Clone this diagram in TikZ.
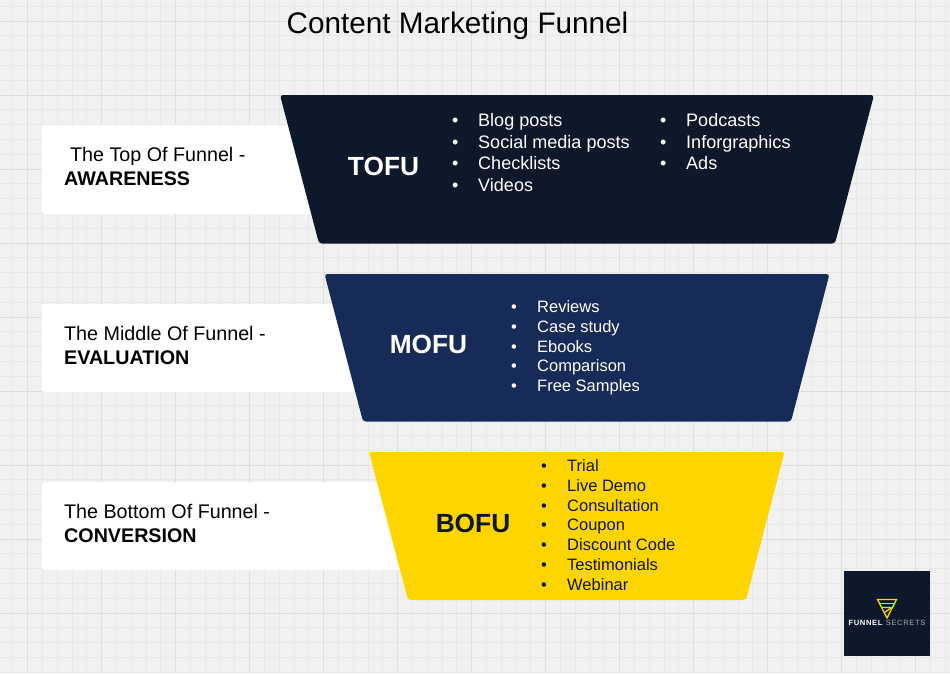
\documentclass[tikz,border=0pt]{standalone}
\usepackage{fontspec}
\setmainfont{Liberation Sans}
\definecolor{paper}{HTML}{F1F1F1}
\definecolor{gridminor}{HTML}{E8E8E8}
\definecolor{gridmajor}{HTML}{DEDEDE}
\definecolor{tofucol}{HTML}{0E182B}
\definecolor{mofucol}{HTML}{172B58}
\definecolor{bofucol}{HTML}{FFD500}
\tikzset{
  stagebox/.style={fill=white, rounded corners=2pt},
  stagetext/.style={anchor=base west, inner sep=0pt, font=\fontsize{19.7}{24}\selectfont, text=black},
  funnelband/.style={rounded corners=3pt},
  bandname/.style={inner sep=0pt, font=\fontsize{26.3}{30}\bfseries\selectfont},
  bandlist/.style={anchor=base west, inner sep=0pt, text=white},
  bigitem/.style={bandlist, font=\fontsize{18.05}{22}\selectfont},
  smallitem/.style={bandlist, font=\fontsize{16.5}{20}\selectfont},
  logoline/.style={draw=bofucol, line width=1.3pt},
}
\newcommand{\bul}[1]{\makebox[26pt][l]{•}#1}
\begin{document}
\begin{tikzpicture}[x=1pt, y=-1pt]
\useasboundingbox (0,0) rectangle (950,673);
\fill[paper] (0,0) rectangle (950,673);
% grid
\foreach \gx in {0,...,64} {\draw[gridminor, line width=1pt] (12.8+14.8*\gx,0) -- (12.8+14.8*\gx,673);}
\foreach \gy in {0,...,45} {\draw[gridminor, line width=1pt] (0,6.2+14.8*\gy) -- (950,6.2+14.8*\gy);}
\foreach \gx in {0,...,12} {\draw[gridmajor, line width=1pt] (27.6+74*\gx,0) -- (27.6+74*\gx,673);}
\foreach \gy in {0,...,8} {\draw[gridmajor, line width=1pt] (0,21+74*\gy) -- (950,21+74*\gy);}

\node[anchor=base, inner sep=0pt, font=\fontsize{29.7}{34}\selectfont] (title) at (457.5,33) {Content Marketing Funnel};

% left labels
\fill[stagebox] (42,125) rectangle (330,214);
\fill[stagebox] (42,304) rectangle (370,392);
\fill[stagebox] (42,482) rectangle (410,570);
\node[stagetext] (topline) at (70,161) {The Top Of Funnel -};
\node[stagetext] (topword) at (64,185) {\bfseries AWARENESS};
\node[stagetext] (midline) at (64,340) {The Middle Of Funnel -};
\node[stagetext] (midword) at (64,364) {\bfseries EVALUATION};
\node[stagetext] (botline) at (64,518) {The Bottom Of Funnel -};
\node[stagetext] (botword) at (64,542) {\bfseries CONVERSION};

% funnel
\fill[funnelband, tofucol] (280,95) -- (874,95) -- (835,243.5) -- (319,243.5) -- cycle;
\fill[funnelband, mofucol] (324.5,274) -- (829.5,274) -- (791,421.5) -- (363,421.5) -- cycle;
\fill[funnelband, bofucol] (369,452) -- (784.5,452) -- (746,600) -- (408,600) -- cycle;
\node[bandname, white] (tofu) at (383.5,166) {TOFU};
\node[bandname, white] (mofu) at (428.5,344) {MOFU};
\node[bandname, tofucol] (bofu) at (473,523) {BOFU};

\node[bigitem] (tid0) at (452,126) {\bul{Blog posts}};
\node[bigitem] (tid1) at (452,148) {\bul{Social media posts}};
\node[bigitem] (tid2) at (452,169) {\bul{Checklists}};
\node[bigitem] (tid3) at (452,191) {\bul{Videos}};
\node[bigitem] (tid4) at (660,126) {\bul{Podcasts}};
\node[bigitem] (tid5) at (660,148) {\bul{Inforgraphics}};
\node[bigitem] (tid6) at (660,169) {\bul{Ads}};

\node[smallitem] (mid0) at (511,312) {\bul{Reviews}};
\node[smallitem] (mid1) at (511,332) {\bul{Case study}};
\node[smallitem] (mid2) at (511,352) {\bul{Ebooks}};
\node[smallitem] (mid3) at (511,371) {\bul{Comparison}};
\node[smallitem] (mid4) at (511,391) {\bul{Free Samples}};

\node[smallitem, text=tofucol] (bid0) at (541,471) {\bul{Trial}};
\node[smallitem, text=tofucol] (bid1) at (541,491) {\bul{Live Demo}};
\node[smallitem, text=tofucol] (bid2) at (541,511) {\bul{Consultation}};
\node[smallitem, text=tofucol] (bid3) at (541,530) {\bul{Coupon}};
\node[smallitem, text=tofucol] (bid4) at (541,550) {\bul{Discount Code}};
\node[smallitem, text=tofucol] (bid5) at (541,570) {\bul{Testimonials}};
\node[smallitem, text=tofucol] (bid6) at (541,590) {\bul{Webinar}};

% logo
\fill[tofucol] (844,570.5) rectangle (930,656);
\draw[logoline] (877.5,599.5) -- (896.5,599.5) -- (887,618) -- cycle;
\draw[logoline] (880,603.5) -- (895,603.5);
\draw[logoline] (882,607.5) -- (892,607.5) -- (885,612);
\node[anchor=base, inner sep=0pt, white, font=\fontsize{7.6}{9}\selectfont\addfontfeature{LetterSpace=8}] (logotext) at (887,625.5) {\textbf{FUNNEL} {\color{gray!70}SECRETS}};
\end{tikzpicture}
\end{document}
